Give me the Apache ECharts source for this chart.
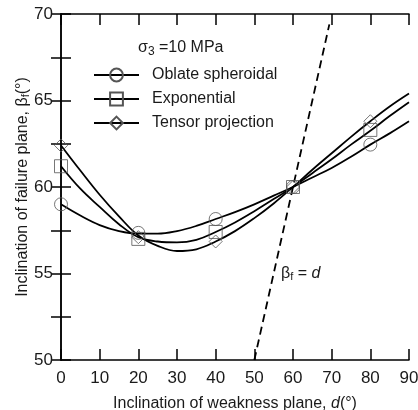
<!DOCTYPE html>
<html>
<head>
<meta charset="utf-8">
<script src="https://cdn.jsdelivr.net/npm/echarts@6/dist/echarts.min.js"></script>
<style>
  html, body { margin: 0; padding: 0; background: #fff; }
  #main { width: 418px; height: 410px; }
</style>
</head>
<body>
<div id="main"></div>
<script>
// curve abscissa (deg)
var curveX = [0, 5, 10, 15, 20, 25, 30, 35, 40, 45, 50, 55, 60, 65, 70, 75, 80, 85, 90];
// fitted curves
var oblateCurve = [59.0, 58.35, 57.8, 57.45, 57.3, 57.3, 57.45, 57.75, 58.15, 58.55, 59.0, 59.5, 60.0, 60.55, 61.1, 61.75, 62.45, 63.1, 63.8];
var expCurve    = [61.2, 59.9, 58.85, 57.85, 57.1, 56.85, 56.8, 56.95, 57.4, 57.95, 58.6, 59.3, 60.0, 60.8, 61.6, 62.45, 63.25, 64.1, 64.9];
var tensorCurve = [62.4, 60.95, 59.55, 58.3, 57.2, 56.6, 56.3, 56.4, 56.85, 57.45, 58.2, 59.05, 60.0, 61.0, 61.95, 62.9, 63.8, 64.65, 65.4];
// discrete markers
var markX = [0, 20, 40, 60, 80];
var oblatePts = [59.0, 57.35, 58.15, 60.0, 62.45];
var expPts    = [61.2, 57.0, 57.4, 60.0, 63.3];
var tensorPts = [62.4, 57.1, 56.85, 60.0, 63.8];
// beta_f = d line
var equalLine = [[50, 50], [69.4, 69.4]];

var names = ['Oblate spheroidal', 'Exponential', 'Tensor projection'];
var symbols = ['circle', 'rect', 'diamond'];
var curves = [oblateCurve, expCurve, tensorCurve];
var points = [oblatePts, expPts, tensorPts];

function zip(xs, ys) {
  return xs.map(function (x, i) { return [x, ys[i]]; });
}

var txt = '#1a1a1a';
var markStyle = { color: 'transparent', borderColor: '#555', borderWidth: 1 };

var series = [];
names.forEach(function (n, i) {
  series.push({
    name: n,
    type: 'line',
    data: zip(curveX, curves[i]),
    smooth: 0.4,
    showSymbol: false,
    symbol: symbols[i],
    symbolSize: 13,
    itemStyle: markStyle,
    lineStyle: { color: '#000', width: 1.8 },
    z: 3
  });
  series.push({
    name: n + ' pts',
    type: 'scatter',
    data: zip(markX, points[i]),
    symbol: symbols[i],
    symbolSize: 13,
    itemStyle: markStyle,
    z: 4
  });
});
series.push({
  type: 'line',
  data: equalLine,
  symbol: 'none',
  lineStyle: { color: '#000', width: 1.8, type: [8, 5] },
  z: 2
});

var chart = echarts.init(document.getElementById('main'));
chart.setOption({
  animation: false,
  backgroundColor: '#fff',
  textStyle: { fontFamily: 'Liberation Sans, Arial, sans-serif', color: txt },
  grid: { left: 61, right: 9, top: 14, bottom: 50, containLabel: false, outerBoundsMode: 'none' },
  title: {
    text: '{s|σ}{sub|3}{s| =10 MPa}',
    left: 138,
    top: 38,
    padding: 0,
    textStyle: {
      fontWeight: 'normal',
      rich: {
        s: { fontSize: 16, fontWeight: 'normal', color: txt, fontFamily: 'Liberation Sans' },
        sub: { fontSize: 12, fontWeight: 'normal', color: txt, verticalAlign: 'bottom', padding: [8, 0, 0, 0], fontFamily: 'Liberation Sans' }
      }
    }
  },
  legend: {
    data: names,
    orient: 'vertical',
    left: 93,
    top: 67,
    padding: 0,
    itemWidth: 45,
    itemHeight: 16,
    itemGap: 8,
    textStyle: { fontSize: 16, color: txt, padding: [0, 0, 0, 8] }
  },
  xAxis: [{
    type: 'value',
    min: 0, max: 90, interval: 10,
    name: 'Inclination of weakness plane, {i|d}(°)',
    nameLocation: 'middle',
    nameGap: 36,
    nameMoveOverlap: false,
    nameTextStyle: { fontSize: 16, color: txt, rich: { i: { fontSize: 16, fontStyle: 'italic', color: txt } } },
    axisLine: { lineStyle: { color: '#000', width: 1.5 } },
    axisTick: { inside: true, length: 11, lineStyle: { color: '#000', width: 1.5 } },
    axisLabel: { fontSize: 17, color: txt, margin: 10 },
    splitLine: { show: false }
  }, {
    type: 'value', position: 'top',
    min: 0, max: 90, interval: 10,
    axisLine: { lineStyle: { color: '#000', width: 1.5 } },
    axisTick: { inside: true, length: 11, lineStyle: { color: '#000', width: 1.5 } },
    axisLabel: { show: false },
    splitLine: { show: false }
  }],
  yAxis: [{
    type: 'value',
    min: 50, max: 70, interval: 2.5,
    name: 'Inclination of failure plane, {b|β}{sub|f}(°)',
    nameLocation: 'middle',
    nameGap: 30,
    nameMoveOverlap: false,
    nameTextStyle: {
      fontSize: 16, color: txt,
      rich: { b: { fontSize: 16, color: txt }, sub: { fontSize: 11, color: txt, verticalAlign: 'bottom', padding: [6, 0, 0, 0] } }
    },
    axisLine: { lineStyle: { color: '#000', width: 1.5 } },
    axisTick: { inside: true, length: 10, lineStyle: { color: '#000', width: 1.5 } },
    axisLabel: {
      fontSize: 17, color: txt, margin: 8,
      formatter: function (v) { return v % 5 === 0 ? String(v) : ''; }
    },
    splitLine: { show: false }
  }, {
    type: 'value', position: 'right',
    min: 50, max: 70, interval: 2.5,
    axisLine: { lineStyle: { color: '#000', width: 1.5 } },
    axisTick: { inside: true, length: 10, lineStyle: { color: '#000', width: 1.5 } },
    axisLabel: { show: false },
    splitLine: { show: false }
  }],
  graphic: [{
    type: 'text',
    left: 281,
    top: 266,
    style: {
      text: '{b|β}{sub|f}{n| = }{i|d}',
      rich: {
        b: { fontSize: 16, fill: txt, fontFamily: 'Liberation Sans' },
        sub: { fontSize: 11, fill: txt, verticalAlign: 'bottom', padding: [6, 0, 0, 0], fontFamily: 'Liberation Sans' },
        n: { fontSize: 16, fill: txt, fontFamily: 'Liberation Sans' },
        i: { fontSize: 16, fill: txt, fontStyle: 'italic', fontFamily: 'Liberation Sans' }
      }
    }
  }],
  series: series
});
</script>
</body>
</html>
